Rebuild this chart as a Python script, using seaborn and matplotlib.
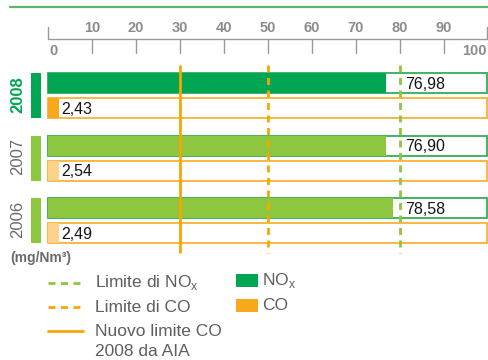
import matplotlib
matplotlib.use("Agg")
import matplotlib.pyplot as plt
import seaborn as sns
import numpy as np
import pandas as pd

# ---- data ----
years = ["2008", "2007", "2006"]
nox_values = [76.98, 76.90, 78.58]
co_values = [2.43, 2.54, 2.49]
nox_labels = ["76,98", "76,90", "78,58"]
co_labels = ["2,43", "2,54", "2,49"]
limit_nox = 80
limit_co = 50
new_limit_co = 30
axis_max = 100
tick_values = [0, 10, 20, 30, 40, 50, 60, 70, 80, 90, 100]

# ---- styling ----
sns.set_theme(style="white")
plt.rcParams["font.family"] = ["Liberation Sans", "DejaVu Sans"]

DARK_GREEN = "#00A651"
LIGHT_GREEN = "#8DC63F"
GREEN_EDGE = "#34AE56"
ORANGE = "#F7A81B"
LIGHT_ORANGE = "#FDD28A"
ORANGE_EDGE = "#F9B233"
LINE_ORANGE = "#F6A800"
TOP_LINE = "#5CB46E"
GRAY_TEXT = "#5E5E5E"
TICK_GRAY = "#8C8C8C"

W, H = 489, 360
fig = plt.figure(figsize=(W / 100, H / 100), dpi=100)
ax = fig.add_axes([0, 0, 1, 1])

# pixel <-> data mapping helpers (layout only)
X0, XS = 48.0, 4.395
Y0, YS = 83.0, 25.0
def X(px):
    return (px - X0) / XS
def Y(py):
    return (py - Y0) / YS

ax.set_xlim(X(0), X(W))

# bar positions: each year group has NOx row then CO row
group_step = 2.5
nox_pos = [i * group_step for i in range(len(years))]
co_pos = [p + 1 for p in nox_pos]

# background boxes (full scale, white with coloured edge)
box_pos = nox_pos + co_pos
box_edges = [GREEN_EDGE] * 3 + [ORANGE_EDGE] * 3
ax.barh(box_pos, [axis_max] * 6, height=0.8, color="white",
        edgecolor=box_edges, linewidth=1.3, zorder=1)

# value fills via seaborn
df = pd.DataFrame({
    "value": nox_values + co_values,
    "pos": nox_pos + co_pos,
    "id": [f"NOx {y}" for y in years] + [f"CO {y}" for y in years],
})
palette = {
    "NOx 2008": DARK_GREEN, "NOx 2007": LIGHT_GREEN, "NOx 2006": LIGHT_GREEN,
    "CO 2008": ORANGE, "CO 2007": LIGHT_ORANGE, "CO 2006": LIGHT_ORANGE,
}
sns.barplot(data=df, x="value", y="pos", hue="id", palette=palette,
            orient="y", native_scale=True, dodge=False, legend=False,
            saturation=1, width=0.8, linewidth=0, ax=ax, zorder=2)

# year side markers
year_cols = [DARK_GREEN, LIGHT_GREEN, LIGHT_GREEN]
for p, c in zip(nox_pos, year_cols):
    ax.barh([p + 0.5], [X(41) - X(31)], left=X(31), height=1.8,
            color=c, linewidth=0, zorder=2)

# year labels
for i, (p, y) in enumerate(zip(nox_pos, years)):
    ax.text(X(18), p + 0.45, y, rotation=90, ha="center", va="center",
            fontsize=12, fontweight="bold" if i == 0 else "normal",
            color=DARK_GREEN if i == 0 else "#6A6A6A", zorder=5)

# limit lines
v_top, v_bot = Y(65), Y(253)
ax.plot([new_limit_co, new_limit_co], [v_top, v_bot], color=LINE_ORANGE,
        lw=2.0, zorder=4, solid_capstyle="butt")
ax.plot([limit_co, limit_co], [v_top, v_bot], color=LINE_ORANGE,
        lw=2.0, ls=(0, (2.5, 2.0)), zorder=4)
ax.plot([limit_nox, limit_nox], [v_top, v_bot], color=LIGHT_GREEN,
        lw=2.0, ls=(0, (2.5, 2.0)), zorder=4)

# value labels
for p, lab in zip(nox_pos, nox_labels):
    ax.text(X(405), p + 0.05, lab, ha="left", va="center", fontsize=11.5,
            color="#141414", zorder=6)
for p, lab in zip(co_pos, co_labels):
    ax.text(X(61), p + 0.05, lab, ha="left", va="center", fontsize=11.5,
            color="#141414", zorder=6)

# top axis (drawn on the same data scale)
ay = Y(39)
ax.plot([0, axis_max], [ay, ay], color="#9A9A9A", lw=1.0, zorder=3)
tick_font = dict(fontsize=10.5, fontweight="bold", color=TICK_GRAY,
                 family=["Liberation Sans Narrow", "Liberation Sans"])
for t in tick_values:
    if t in (0, axis_max):
        ax.plot([t, t], [Y(27), ay], color="#9A9A9A", lw=1.0, zorder=3)
        ax.text(t + (0.3 if t == 0 else -0.3), Y(51), str(t),
                ha="left" if t == 0 else "right", va="center", **tick_font)
    else:
        ax.plot([t, t], [ay, Y(53)], color="#9A9A9A", lw=1.0, zorder=3)
        ax.text(t, Y(28), str(t), ha="center", va="center", **tick_font)

# top green rule
ax.plot([X(10), X(W)], [Y(7), Y(7)], color=TOP_LINE, lw=1.6, zorder=3)

# unit label
ax.text(X(10), Y(258), "(mg/Nm³)", ha="left", va="center",
        fontsize=10, fontweight="bold", color="#6A6A6A")

# legend (manual)
leg_font = dict(fontsize=12.5, color=GRAY_TEXT, va="center", ha="left")
ax.plot([X(48), X(83)], [Y(283), Y(283)], color=LIGHT_GREEN, lw=2,
        ls=(0, (2.5, 2.0)))
ax.text(X(95), Y(283), "Limite di NO$_{\\mathregular{x}}$", **leg_font)
ax.plot([X(48), X(83)], [Y(307), Y(307)], color=LINE_ORANGE, lw=2,
        ls=(0, (2.5, 2.0)))
ax.text(X(95), Y(307), "Limite di CO", **leg_font)
ax.plot([X(48), X(83)], [Y(331), Y(331)], color=LINE_ORANGE, lw=2)
ax.text(X(95), Y(331), "Nuovo limite CO", **leg_font)
ax.text(X(95), Y(351), "2008 da AIA", **leg_font)

ax.barh([Y(280.5)], [X(258) - X(236)], left=X(236), height=13 / YS,
        color=DARK_GREEN, linewidth=0)
ax.text(X(262), Y(281), "NO$_{\\mathregular{x}}$", **leg_font)
ax.barh([Y(305)], [X(258) - X(236)], left=X(236), height=13 / YS,
        color=ORANGE, linewidth=0)
ax.text(X(262), Y(305), "CO", **leg_font)

ax.set_ylim(Y(H), Y(0))
ax.axis("off")

fig.savefig("out.png", dpi=100)
